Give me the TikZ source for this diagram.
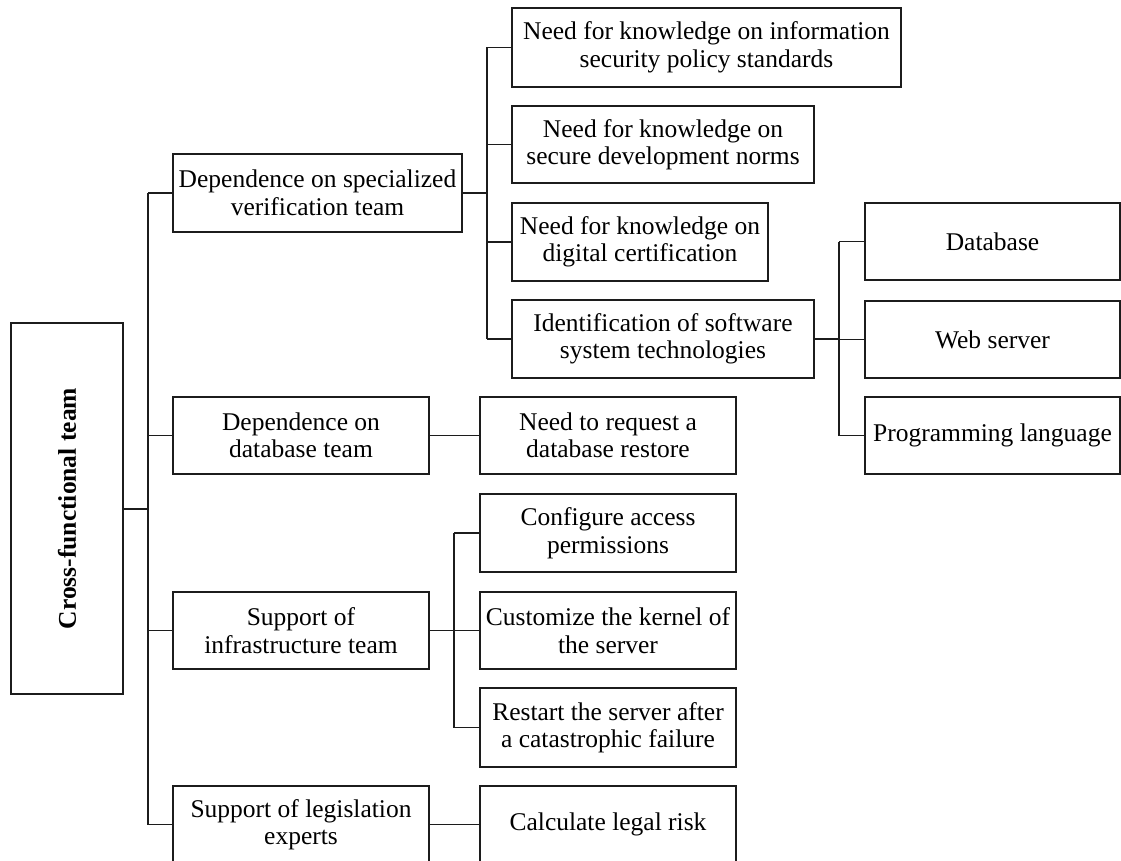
\documentclass[tikz,border=0pt]{standalone}
\usepackage{fontspec}
\setmainfont{Liberation Serif}
\definecolor{ink}{HTML}{1C1C1C}
\begin{document}
\begin{tikzpicture}[x=1pt,y=-1pt,
  txt/.style={font=\fontsize{25.5}{27.5}\selectfont},
  box/.style={draw=ink, line width=1.4pt, inner sep=0pt, align=center,
    minimum width=256pt, minimum height=77pt, txt},
  link/.style={draw=ink, line width=1.1pt}]
\useasboundingbox (0,0) rectangle (1121,861);

% root
\node[box, rotate=90, minimum width=371pt, minimum height=112pt,
  font=\bfseries\fontsize{25.5}{27.5}\selectfont] (root) at (67,508.5) {Cross-functional team};

% first level
\node[box, minimum width=289pt, minimum height=78pt] (A1) at (317.5,193) {Dependence on specialized\\verification team};
\node[box] (A2) at (301,435.5) {Dependence on\\database team};
\node[box] (A3) at (301,630.5) {Support of\\infrastructure team};
\node[box] (A4) at (301,824.5) {Support of legislation\\experts};

% knowledge needs
\node[box, minimum width=389pt, minimum height=79pt] (B1) at (706.5,47.5) {Need for knowledge on information\\security policy standards};
\node[box, minimum width=302pt] (B2) at (663,144.5) {Need for knowledge on\\secure development norms};
\node[box, minimum height=78pt] (B3) at (640,242) {Need for knowledge on\\digital certification};
\node[box, minimum width=302pt, minimum height=78pt] (B4) at (663,339) {Identification of software\\system technologies};

% technologies
\node[box, minimum width=255pt] (C1) at (992.5,241.5) {Database};
\node[box, minimum width=255pt] (C2) at (992.5,339.5) {Web server};
\node[box, minimum width=255pt] (C3) at (992.5,435.5) {Programming language};

% database team
\node[box] (D1) at (608,435.5) {Need to request a\\database restore};

% infrastructure team
\node[box, minimum height=78pt] (E1) at (608,533) {Configure access\\permissions};
\node[box] (E2) at (608,630.5) {Customize the kernel of\\the server};
\node[box, minimum height=79pt] (E3) at (608,727.5) {Restart the server after\\a catastrophic failure};

% legislation experts
\node[box] (F1) at (608,824.5) {Calculate legal risk};

% bus lines
\coordinate (t0) at (148,0);
\coordinate (t1) at (487,0);
\coordinate (t2) at (839,0);
\coordinate (t3) at (454,0);

\draw[link, line width=2pt] (root.south) -- (root.south -| t0);
\draw[link] (A1.west -| t0) -- (A4.west -| t0);
\foreach \n in {A1,A2,A3,A4} \draw[link] (\n.west -| t0) -- (\n.west);

\draw[link] (A1.east) -- (A1.east -| t1);
\draw[link] (B1.west -| t1) -- (B4.west -| t1);
\foreach \n in {B1,B2,B3,B4} \draw[link] (\n.west -| t1) -- (\n.west);

\draw[link] (B4.east) -- (B4.east -| t2);
\draw[link] (C1.west -| t2) -- (C3.west -| t2);
\foreach \n in {C1,C2,C3} \draw[link] (\n.west -| t2) -- (\n.west);

\draw[link] (A2.east) -- (D1.west);

\draw[link] (A3.east) -- (A3.east -| t3);
\draw[link] (E1.west -| t3) -- (E3.west -| t3);
\foreach \n in {E1,E2,E3} \draw[link] (\n.west -| t3) -- (\n.west);

\draw[link] (A4.east) -- (F1.west);
\end{tikzpicture}
\end{document}
